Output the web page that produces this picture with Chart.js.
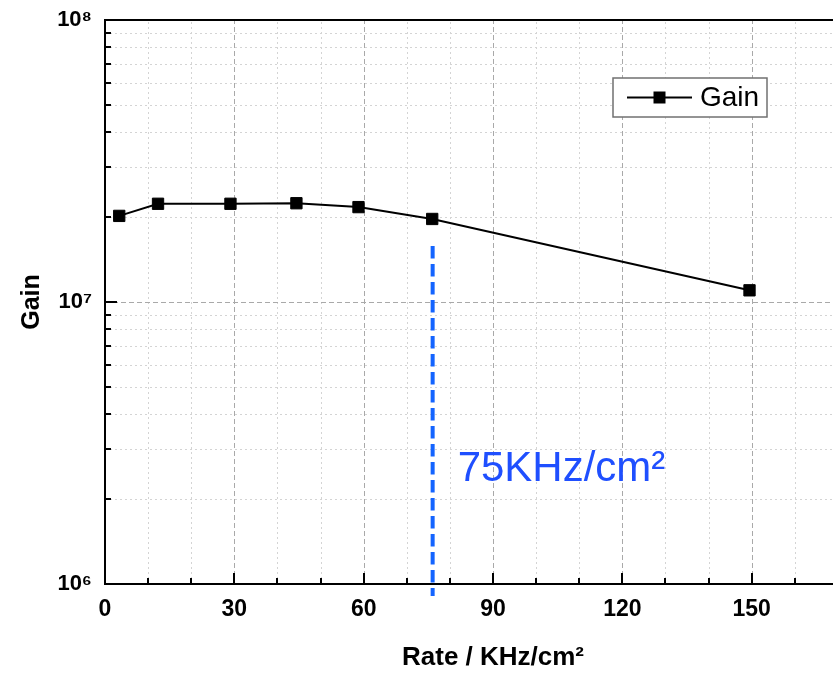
<!DOCTYPE html>
<html>
<head>
<meta charset="utf-8">
<title>Gain vs Rate</title>
<script src="https://cdn.jsdelivr.net/npm/chart.js@4.4.1/dist/chart.umd.min.js"></script>
<style>
  html, body { margin: 0; padding: 0; background: #fff; overflow: hidden; }
  #wrap { width: 890px; height: 676px; }
</style>
</head>
<body>
<div id="wrap"><canvas id="c" width="890" height="676"></canvas></div>
<script>
// Measured gain at each irradiation rate
const rateValues = [3.3, 12.3, 29.1, 44.4, 58.8, 75.9, 149.5];   // KHz/cm²
const gainValues = [2.02e7, 2.23e7, 2.23e7, 2.24e7, 2.17e7, 1.97e7, 1.10e7];
const seriesName = 'Gain';

// Axis tick labels
const xTickLabels = ['0', '30', '60', '90', '120', '150'];
const yTickPowers = [1e6, 1e7, 1e8];
const yTickLabels = ['10⁶', '10⁷', '10⁸'];

// Rate limit marker
const markerRate = 76;
const markerTopGain = 1.58e7;
const markerText = '75KHz/cm²';
const markerTextGain = 2.32e6;

const FONT = '"Liberation Sans", Arial, Helvetica, sans-serif';

function isPow10(v) {
  const e = Math.round(Math.log10(v));
  return Math.abs(v - Math.pow(10, e)) / v < 1e-9;
}

// Gridlines, inward tick marks, top frame, marker line and inset legend
const decorations = {
  id: 'decorations',
  beforeDatasetsDraw(chart) {
    const { ctx, chartArea: a, scales: { x, y } } = chart;
    ctx.save();
    ctx.lineWidth = 1;
    // vertical grid
    x.ticks.forEach(t => {
      if (t.value <= x.min) return;
      const px = Math.round(x.getPixelForValue(t.value)) + 0.5;
      const major = t.value % 30 === 0;
      ctx.strokeStyle = major ? '#a9a9a9' : '#d4d4d4';
      ctx.setLineDash(major ? [5, 3] : [2, 3]);
      ctx.beginPath(); ctx.moveTo(px, a.bottom); ctx.lineTo(px, a.top); ctx.stroke();
    });
    // horizontal grid
    y.ticks.forEach(t => {
      if (t.value <= y.min || t.value >= y.max) return;
      const py = Math.round(y.getPixelForValue(t.value)) + 0.5;
      const major = isPow10(t.value);
      ctx.strokeStyle = major ? '#a9a9a9' : '#d4d4d4';
      ctx.setLineDash(major ? [5, 3] : [2, 3]);
      ctx.beginPath(); ctx.moveTo(a.left, py); ctx.lineTo(a.right, py); ctx.stroke();
    });
    ctx.setLineDash([]);
    // inward ticks
    ctx.strokeStyle = '#000';
    ctx.lineWidth = 2;
    x.ticks.forEach(t => {
      if (t.value <= x.min) return;
      const px = Math.round(x.getPixelForValue(t.value));
      const len = t.value % 30 === 0 ? 11 : 6;
      ctx.beginPath(); ctx.moveTo(px, a.bottom); ctx.lineTo(px, a.bottom - len); ctx.stroke();
    });
    y.ticks.forEach(t => {
      if (t.value <= y.min || t.value >= y.max) return;
      const py = Math.round(y.getPixelForValue(t.value));
      const len = isPow10(t.value) ? 12 : 6;
      ctx.beginPath(); ctx.moveTo(a.left, py); ctx.lineTo(a.left + len, py); ctx.stroke();
    });
    // top frame
    ctx.beginPath(); ctx.moveTo(a.left - 1, a.top); ctx.lineTo(a.right, a.top); ctx.stroke();
    ctx.restore();
  },
  afterDraw(chart) {
    const { ctx, chartArea: a, scales: { x, y } } = chart;
    ctx.save();
    // dashed marker line
    const mx = x.getPixelForValue(markerRate);
    ctx.strokeStyle = '#1464ff';
    ctx.lineWidth = 4;
    ctx.setLineDash([12.5, 5.5]);
    ctx.beginPath();
    ctx.moveTo(mx, y.getPixelForValue(markerTopGain));
    ctx.lineTo(mx, a.bottom + 12);
    ctx.stroke();
    ctx.setLineDash([]);
    // marker text
    ctx.fillStyle = '#1f4fff';
    ctx.font = '42px ' + FONT;
    ctx.textAlign = 'left';
    ctx.textBaseline = 'alphabetic';
    ctx.fillText(markerText, mx + 25, y.getPixelForValue(markerTextGain));

    // legend box
    const ds = chart.data.datasets[0];
    const bx = a.left + 508, by = a.top + 58, bw = 154, bh = 39;
    ctx.fillStyle = '#fff';
    ctx.fillRect(bx, by, bw, bh);
    ctx.strokeStyle = '#707070';
    ctx.lineWidth = 1.5;
    ctx.strokeRect(bx, by, bw, bh);
    const cy = by + bh / 2;
    ctx.strokeStyle = '#000';
    ctx.lineWidth = 2;
    ctx.beginPath(); ctx.moveTo(bx + 14, cy); ctx.lineTo(bx + 79, cy); ctx.stroke();
    ctx.fillStyle = '#000';
    ctx.fillRect(bx + 40.5, cy - 6, 12, 12);
    ctx.font = '28px ' + FONT;
    ctx.textBaseline = 'middle';
    ctx.fillText(ds.label, bx + 87, cy + 1);
    ctx.restore();
  }
};

new Chart(document.getElementById('c'), {
  type: 'line',
  data: {
    datasets: [{
      label: seriesName,
      data: rateValues.map((r, i) => ({ x: r, y: gainValues[i] })),
      borderColor: '#000',
      backgroundColor: '#000',
      borderWidth: 2,
      pointStyle: 'rect',
      pointRadius: 8,
      pointBorderWidth: 1,
      pointBorderColor: '#000',
      pointBackgroundColor: '#000',
      tension: 0,
      fill: false
    }]
  },
  options: {
    responsive: false,
    animation: false,
    layout: { padding: { top: 20, right: 8, left: 0, bottom: 0 } },
    plugins: { legend: { display: false }, tooltip: { enabled: false } },
    scales: {
      x: {
        type: 'linear',
        min: 0,
        max: 180,
        grid: { display: false },
        border: { display: true, color: '#000', width: 2 },
        ticks: {
          stepSize: 10,
          autoSkip: false,
          maxRotation: 0,
          padding: 4,
          color: '#000',
          font: { family: FONT, size: 23, weight: 'bold' },
          callback: v => xTickLabels.includes(String(v)) ? String(v) : ''
        },
        title: {
          display: true,
          text: 'Rate / KHz/cm²',
          color: '#000',
          font: { family: FONT, size: 26, weight: 'bold' },
          padding: { top: 0, bottom: 3 }
        },
        afterFit: s => { s.height = 92; s.paddingLeft = 0; s.paddingRight = 0; }
      },
      y: {
        type: 'logarithmic',
        min: 1e6,
        max: 1e8,
        grid: { display: false },
        border: { display: true, color: '#000', width: 2 },
        afterBuildTicks: s => {
          const ticks = [];
          for (let d = 1e6; d < 1e8; d *= 10) {
            for (let m = 1; m <= 9; m++) ticks.push({ value: m * d });
          }
          ticks.push({ value: 1e8 });
          s.ticks = ticks;
        },
        ticks: {
          autoSkip: false,
          padding: 5,
          color: '#000',
          font: { family: FONT, size: 22, weight: 'bold' },
          callback: v => {
            const i = yTickPowers.findIndex(p => Math.abs(p - v) / p < 1e-9);
            return i >= 0 ? yTickLabels[i] : '';
          }
        },
        title: {
          display: true,
          text: 'Gain',
          color: '#000',
          font: { family: FONT, size: 25, weight: 'bold' },
          padding: { top: 17, bottom: 0 }
        },
        afterFit: s => { s.width = 105; s.paddingTop = 0; s.paddingBottom = 0; }
      }
    }
  },
  plugins: [decorations]
});
</script>
</body>
</html>
